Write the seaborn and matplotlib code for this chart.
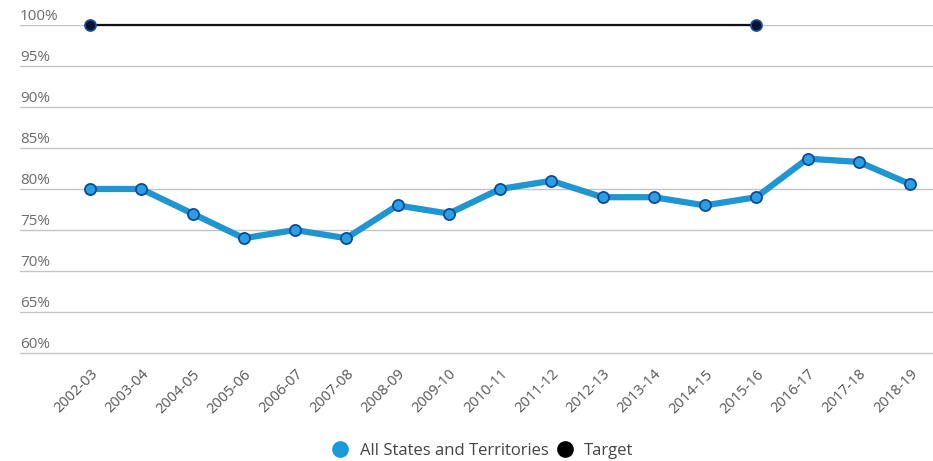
import pandas as pd
import matplotlib.pyplot as plt
import matplotlib.transforms as mtransforms
from matplotlib.lines import Line2D
import seaborn as sns

# данные
years = ['2002-03', '2003-04', '2004-05', '2005-06', '2006-07', '2007-08',
         '2008-09', '2009-10', '2010-11', '2011-12', '2012-13', '2013-14',
         '2014-15', '2015-16', '2016-17', '2017-18', '2018-19']
all_states = [80, 80, 77, 74, 75, 74, 78, 77, 80, 81, 79, 79, 78, 79, 83.7, 83.3, 80.6]
target_years = ['2002-03', '2015-16']
target_vals = [100, 100]
y_ticks = [60, 65, 70, 75, 80, 85, 90, 95, 100]

df = pd.DataFrame({'year': years, 'pct': all_states})
df['pos'] = range(len(years))
tgt = pd.DataFrame({'year': target_years, 'pct': target_vals})
tgt['pos'] = tgt['year'].map({y: i for i, y in enumerate(years)})

sns.set_style('white')
plt.rcParams['font.family'] = ['Open Sans', 'DejaVu Sans']

# ось чуть ниже 60, чтобы нижняя линия сетки была видна
px_per_pct = (353 - 25) / 40
y_lo = 59.5
h_px = (100 - y_lo) * px_per_pct
fig = plt.figure(figsize=(9.33, 4.61), dpi=100)
ax = fig.add_axes([20 / 933, 1 - (25 + h_px) / 461, 1 - 20 / 933, h_px / 461])

blue_line = '#1f95d2'
blue_face = '#2a9fe2'
blue_edge = '#0b4a9a'

sns.lineplot(data=df, x='pos', y='pct', ax=ax, color=blue_line, linewidth=4.5,
             marker='o', markersize=8, markerfacecolor=blue_face,
             markeredgecolor=blue_edge, markeredgewidth=1.3, clip_on=False, zorder=3)
sns.lineplot(data=tgt, x='pos', y='pct', ax=ax, color='#111111', linewidth=1.6,
             marker='o', markersize=8, markerfacecolor='#061433',
             markeredgecolor='#1b4f9a', markeredgewidth=1.2, clip_on=False, zorder=4)

step = 51.25
ax.set_xlim(-70 / step, (933 - 90) / step)
ax.set_ylim(y_lo, 100)
ax.set_yticks(y_ticks)
ax.yaxis.grid(True, color='#c4c4c4', linewidth=1)
ax.set_yticklabels([])
ax.tick_params(axis='y', length=0)

# подписи оси Y над линиями сетки
trans = mtransforms.blended_transform_factory(ax.transAxes, ax.transData)
off = mtransforms.offset_copy(trans, fig=fig, x=0, y=0.5, units='points')
for t in y_ticks:
    ax.text(0, t, f'{t}%', transform=off, ha='left', va='bottom',
            fontsize=11, color='#6b6b6b')

ax.set_xticks(df['pos'])
ax.set_xticklabels(years, rotation=45, ha='right', va='top',
                   rotation_mode='anchor', fontsize=10.5, color='#555555')
ax.tick_params(axis='x', length=0, pad=7)
ax.set_xlabel('')
ax.set_ylabel('')
sns.despine(ax=ax, left=True, bottom=True)

handles = [
    Line2D([], [], marker='o', linestyle='none', markersize=11,
           markerfacecolor='#1a9ad8', markeredgecolor='#1a9ad8'),
    Line2D([], [], marker='o', linestyle='none', markersize=11,
           markerfacecolor='#000000', markeredgecolor='#000000'),
]
fig.legend(handles, ['All States and Territories', 'Target'], loc='center',
           bbox_to_anchor=(0.513, 1 - 451 / 461), ncol=2, frameon=False,
           fontsize=12, handletextpad=0.15, columnspacing=0.0,
           labelcolor='#444444')

fig.savefig('out.png', dpi=100)
